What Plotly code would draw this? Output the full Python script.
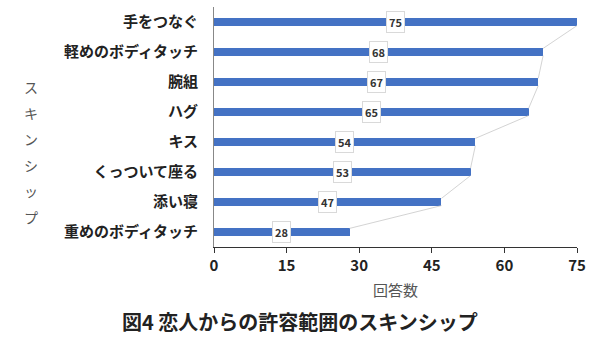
import plotly.graph_objects as go

categories = ["手をつなぐ", "軽めのボディタッチ", "腕組", "ハグ", "キス",
              "くっついて座る", "添い寝", "重めのボディタッチ"]
values = [75, 68, 67, 65, 54, 53, 47, 28]
x_ticks = [0, 15, 30, 45, 60, 75]
y_title_chars = list("スキンシップ")

FONT = "Noto Sans CJK JP"
BAR_COLOR = "#4472C4"
BAR_W = 0.24

pos = list(range(len(categories)))

fig = go.Figure()
fig.add_trace(go.Bar(
    x=values, y=pos, orientation="h", width=BAR_W,
    marker=dict(color=BAR_COLOR, line=dict(width=0)),
    hoverinfo="skip",
))

# series lines joining the ends of consecutive bars
lx, ly = [], []
for i in range(len(values) - 1):
    lx += [values[i], values[i + 1], None]
    ly += [pos[i] + BAR_W / 2, pos[i + 1] - BAR_W / 2, None]
fig.add_trace(go.Scatter(
    x=lx, y=ly, mode="lines",
    line=dict(color="#c8c8c8", width=0.8),
    hoverinfo="skip",
))

# value labels in boxes at mid-bar
for v, p in zip(values, pos):
    fig.add_annotation(
        x=v / 2, y=p, text=f"<b>{v}</b>", showarrow=False,
        font=dict(family=FONT, size=11, color="#333333"),
        bgcolor="white", bordercolor="#d9d9d9", borderwidth=1, borderpad=2,
    )

# vertical axis title, one upright character per line
for k, ch in enumerate(y_title_chars):
    fig.add_annotation(
        xref="paper", yref="paper", x=-0.503, y=0.667 - k * 0.108,
        text=ch, showarrow=False, xanchor="center", yanchor="middle",
        font=dict(family=FONT, size=14, color="#555555"),
    )

fig.add_annotation(
    xref="paper", yref="paper", x=0.237, y=-0.31,
    text="<b>図4 恋人からの許容範囲のスキンシップ</b>", showarrow=False,
    xanchor="center", yanchor="middle",
    font=dict(family=FONT, size=20, color="#222222"),
)

fig.update_layout(
    width=600, height=337,
    margin=dict(l=214, r=23, t=7, b=90),
    paper_bgcolor="white", plot_bgcolor="white",
    showlegend=False,
    bargap=0,
)
fig.update_xaxes(
    range=[0, 75], tickvals=x_ticks,
    ticktext=[f"<b>{t}</b>" for t in x_ticks],
    showgrid=False, zeroline=False,
    showline=True, linecolor="#333333", linewidth=1,
    ticks="outside", ticklen=5, tickcolor="#333333",
    tickfont=dict(family=FONT, size=15, color="#222222"),
    title=dict(text="回答数", font=dict(family=FONT, size=15, color="#555555"), standoff=11),
)
fig.update_yaxes(
    range=[len(categories) - 0.5, -0.5],
    tickvals=pos, ticktext=[f"<b>{c}</b>" for c in categories],
    showgrid=False, zeroline=False,
    showline=True, linecolor="#888888", linewidth=1,
    ticks="", ticklabelstandoff=12,
    tickfont=dict(family=FONT, size=15, color="#222222"),
)

fig.write_html("out.html")
